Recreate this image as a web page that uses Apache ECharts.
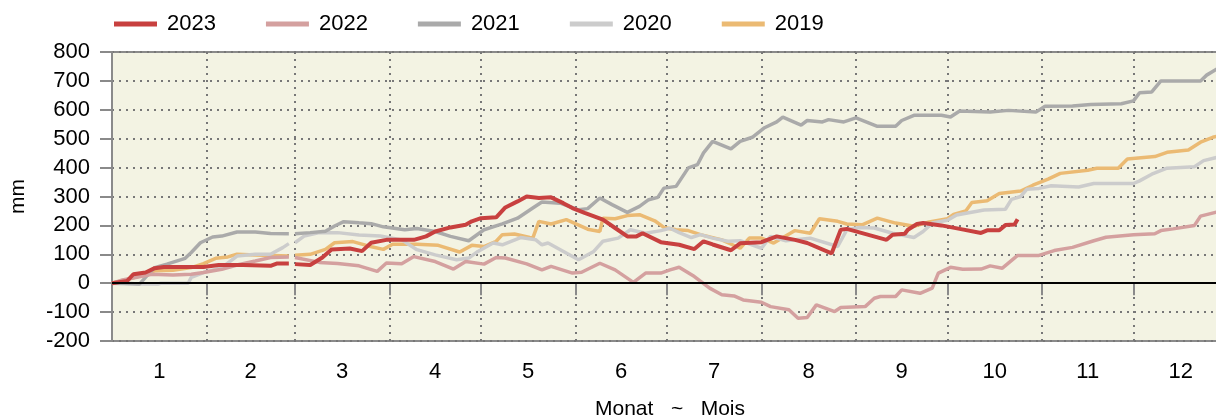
<!DOCTYPE html>
<html>
<head>
<meta charset="utf-8">
<script src="https://cdn.jsdelivr.net/npm/echarts@6/dist/echarts.min.js"></script>
<style>
  html, body { margin: 0; padding: 0; background: #fff; }
  #chart { width: 1216px; height: 418px; }
</style>
</head>
<body>
<div id="chart"></div>
<script>
// Monatsgrenzen (Tag im Jahr, Schaltjahr) und Beschriftung
const months = ['1', '2', '3', '4', '5', '6', '7', '8', '9', '10', '11', '12'];
const monthStart = [0, 31, 60, 91, 121, 152, 182, 213, 244, 274, 305, 335, 366];
const years = ['2023', '2022', '2021', '2020', '2019'];
const colors = ['#c8403f', '#d4a09f', '#aaaaaa', '#cccccc', '#ebba73'];

const y2023 = [[0,0],[5,8],[7,31],[11,37],[14,52],[17,56],[30,56],[35,63],[43,63],[52,60],[54,68],[58,68],[59,null],
  [60,66],[65,63],[69,89],[72,117],[78,120],[82,111],[85,140],[90,150],[93,150],[99,150],[103,162],[106,179],
  [111,193],[116,202],[118,214],[121,225],[126,228],[129,262],[133,283],[136,300],[140,295],[144,297],[148,277],
  [151,260],[155,243],[161,220],[165,191],[169,162],[172,162],[174,173],[180,142],[186,133],[191,118],[194,145],
  [197,134],[203,114],[206,138],[213,142],[218,162],[224,150],[228,139],[236,103],[239,185],[241,188],[254,150],
  [256,168],[260,171],[261,185],[264,205],[266,208],[272,200],[278,188],[285,174],[287,183],[291,183],[293,201],
  [296,203],[297,221]];
const y2022 = [[0,0],[3,10],[9,22],[13,31],[20,28],[26,31],[30,37],[36,48],[41,63],[47,77],[52,89],[58,91],[59,null],
  [60,89],[68,72],[74,68],[81,60],[87,41],[90,70],[95,67],[99,92],[106,75],[112,49],[116,75],[122,66],[126,89],
  [129,87],[136,67],[141,46],[144,58],[151,35],[154,38],[160,69],[165,46],[171,3],[175,35],[180,35],[183,46],
  [186,55],[191,23],[196,-17],[200,-40],[204,-44],[207,-58],[213,-66],[216,-81],[222,-92],[225,-121],[228,-119],
  [231,-75],[237,-98],[239,-84],[247,-81],[250,-52],[252,-46],[257,-46],[259,-23],[265,-35],[269,-17],[271,35],
  [275,55],[279,48],[285,49],[288,60],[292,52],[297,96],[304,96],[309,113],[315,124],[322,147],[326,159],
  [335,168],[342,171],[344,182],[348,188],[355,200],[357,232],[363,248]];
const y2021 = [[0,0],[4,0],[9,-3],[11,20],[14,54],[18,66],[24,86],[26,106],[29,140],[33,160],[36,163],[41,177],
  [47,177],[52,172],[58,171],[59,null],[60,171],[65,175],[70,180],[73,198],[76,213],[81,209],[85,206],[89,195],
  [96,185],[100,189],[106,179],[111,162],[117,147],[122,185],[128,205],[133,225],[138,260],[141,281],[147,277],
  [153,254],[156,258],[160,295],[164,272],[169,245],[173,266],[176,289],[179,297],[181,329],[185,335],[189,399],
  [192,410],[194,451],[197,491],[203,465],[206,491],[210,505],[214,538],[218,558],[220,575],[226,547],[228,563],
  [233,558],[235,566],[240,558],[244,572],[251,543],[257,543],[259,563],[263,581],[272,581],[275,575],[278,596],
  [288,592],[294,598],[303,592],[306,612],[315,613],[321,618],[331,621],[335,631],[337,659],[341,662],[344,700],
  [357,700],[359,720],[363,745]];
const y2020 = [[0,0],[4,-2],[15,-3],[16,0],[25,0],[26,20],[30,37],[36,54],[41,94],[47,100],[52,100],[56,123],[58,137],
  [59,null],[60,140],[63,163],[68,175],[74,175],[81,167],[88,163],[95,150],[100,116],[106,98],[113,81],[117,87],
  [120,110],[125,139],[128,133],[134,158],[139,150],[141,133],[143,139],[153,81],[158,110],[161,145],[166,156],
  [170,185],[175,173],[180,182],[183,190],[186,175],[190,158],[193,168],[197,156],[202,145],[206,147],[213,121],
  [216,162],[221,147],[229,156],[238,127],[241,185],[245,193],[250,191],[256,173],[263,158],[266,179],[269,208],
  [274,218],[277,236],[281,244],[286,253],[293,256],[295,290],[298,300],[300,325],[304,328],[308,337],[317,333],
  [322,345],[335,345],[337,354],[341,377],[346,398],[355,403],[358,424],[363,437]];
const y2019 = [[0,0],[4,10],[9,25],[14,43],[20,45],[26,54],[30,68],[34,86],[38,91],[41,100],[47,98],[58,94],[59,null],
  [60,97],[65,100],[70,117],[73,140],[79,144],[84,129],[89,117],[92,135],[100,135],[107,131],[114,108],[118,131],
  [122,127],[126,145],[128,168],[132,170],[137,158],[138,156],[140,214],[144,205],[149,220],[156,187],[160,179],
  [161,225],[165,223],[169,234],[173,237],[178,216],[181,193],[185,185],[189,182],[193,168],[200,150],[206,121],
  [209,156],[213,156],[217,139],[224,182],[229,173],[232,223],[238,214],[241,205],[246,202],[251,225],[257,208],
  [263,197],[268,212],[274,223],[276,238],[280,250],[282,279],[287,285],[291,310],[298,319],[302,339],[307,360],
  [311,380],[320,391],[323,398],[330,398],[333,430],[342,438],[346,453],[353,461],[357,488],[361,505],[363,510]];

const seriesData = [y2023, y2022, y2021, y2020, y2019];
const monthMid = monthStart.slice(0, 12).map((s, i) => (s + monthStart[i + 1]) / 2);

const font = 'Liberation Sans, Arial, sans-serif';
const dom = echarts.init(document.getElementById('chart'), null, { renderer: 'canvas' });

// älteste Jahre zuerst zeichnen, 2023 liegt oben
const series = [];
for (let i = years.length - 1; i >= 0; i--) {
  series.push({
    name: years[i],
    type: 'line',
    data: seriesData[i],
    showSymbol: false,
    symbol: 'none',
    connectNulls: false,
    color: colors[i],
    lineStyle: { width: i === 0 ? 4 : 3.5, color: colors[i] },
    markLine: i === 0 ? {
      silent: true,
      symbol: 'none',
      label: { show: false },
      lineStyle: { color: '#000', width: 2, type: 'solid' },
      data: [{ yAxis: 0 }]
    } : undefined
  });
}

const option = {
  animation: false,
  textStyle: { fontFamily: font },
  legend: {
    data: years,
    left: 109,
    top: 8,
    icon: 'rect',
    itemWidth: 43,
    itemHeight: 5,
    itemGap: 50,
    textStyle: { fontSize: 22, color: '#000', fontFamily: font, padding: [0, 0, 0, 5] }
  },
  grid: {
    left: 112,
    top: 52,
    width: 1116,
    height: 289,
    outerBoundsMode: 'none',
    containLabel: false,
    show: true,
    backgroundColor: '#f3f3e3',
    borderColor: '#8a8a8a',
    borderWidth: 2
  },
  xAxis: {
    type: 'value',
    min: 0,
    max: 366,
    name: 'Monat   ~   Mois',
    nameLocation: 'middle',
    nameGap: 58,
    nameTextStyle: { fontSize: 21, color: '#000', fontFamily: font },
    axisLine: { lineStyle: { color: '#8a8a8a', width: 2 } },
    axisTick: { customValues: monthStart, length: 12, lineStyle: { color: '#8a8a8a', width: 2 } },
    axisLabel: {
      customValues: monthMid,
      margin: 20,
      fontSize: 22,
      color: '#000',
      fontFamily: font,
      formatter: function (v) { return months[monthMid.indexOf(v)]; }
    },
    splitLine: { show: true, lineStyle: { color: '#777', width: 2, type: [2, 5] } }
  },
  yAxis: {
    type: 'value',
    min: -200,
    max: 800,
    interval: 100,
    name: 'mm',
    nameLocation: 'middle',
    nameGap: 83,
    nameTextStyle: { fontSize: 21, color: '#000', fontFamily: font },
    axisLine: { show: true, lineStyle: { color: '#8a8a8a', width: 2 } },
    axisTick: { show: true, length: 12, lineStyle: { color: '#8a8a8a', width: 2 } },
    axisLabel: { margin: 22, fontSize: 22, color: '#000', fontFamily: font },
    splitLine: { show: true, lineStyle: { color: '#777', width: 2, type: [2, 5] } }
  },
  series: series
};

dom.setOption(option);
window.addEventListener('resize', dom.resize);
</script>
</body>
</html>
